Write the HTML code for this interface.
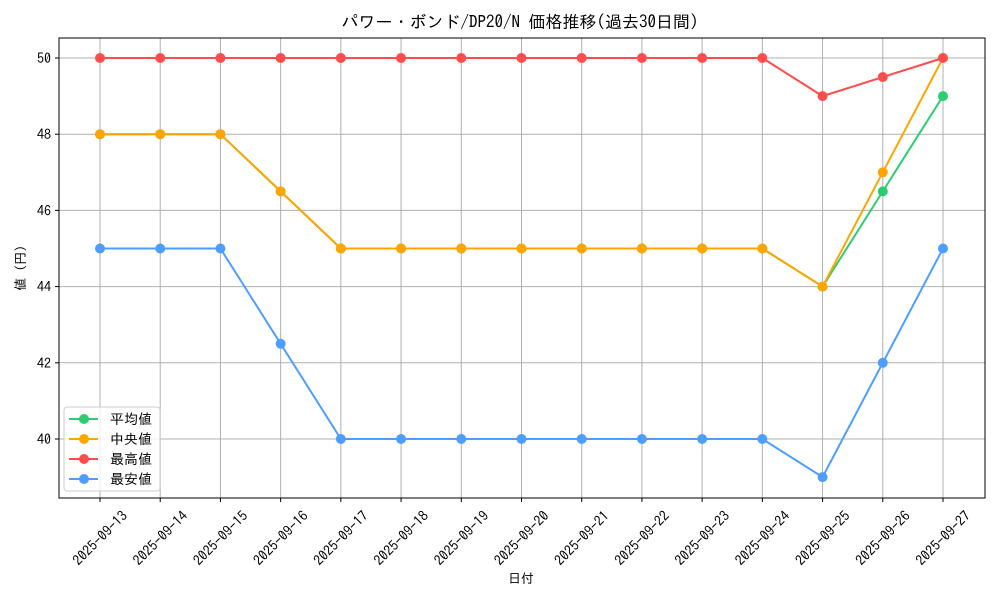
<!DOCTYPE html>
<html><head><meta charset="utf-8"><style>
body{margin:0;background:#fff}
svg text{font-family:"IPAGothic","Liberation Sans","Noto Sans CJK JP",sans-serif;fill:#000}
</style></head><body>
<svg id="c" width="1000" height="600"></svg>
<script>
const dates=["2025-09-13","2025-09-14","2025-09-15","2025-09-16","2025-09-17","2025-09-18","2025-09-19","2025-09-20","2025-09-21","2025-09-22","2025-09-23","2025-09-24","2025-09-25","2025-09-26","2025-09-27"];
const avgVals=[48,48,48,46.5,45,45,45,45,45,45,45,45,44,46.5,49];
const medVals=[48,48,48,46.5,45,45,45,45,45,45,45,45,44,47,50];
const maxVals=[50,50,50,50,50,50,50,50,50,50,50,50,49,49.5,50];
const minVals=[45,45,45,42.5,40,40,40,40,40,40,40,40,39,42,45];
const yTicks=[40,42,44,46,48,50];
const seriesNames=["平均値","中央値","最高値","最安値"];
const L=59,R=985,T=38,B=498;
const X=i=>100+i*(943-100)/(dates.length-1);
const Y=v=>58+(50-v)*(439-58)/10;
const svg=document.getElementById('c');const NS='http://www.w3.org/2000/svg';
function mk(t,a,p){const e=document.createElementNS(NS,t);for(const k in a)e.setAttribute(k,a[k]);(p||svg).appendChild(e);return e;}
let e;
dates.forEach((d,i)=>{e=mk('line',{x1:X(i),x2:X(i),y1:T,y2:B,stroke:'#b0b0b0','stroke-width':1});

mk('line',{x1:X(i),x2:X(i),y1:B,y2:B+4,stroke:'#000'});
const cx=X(i),cy=B+40;
e=mk('text',{x:cx,y:cy+5,'font-size':14,'text-anchor':'middle',transform:`rotate(-45 ${cx} ${cy})`});e.textContent=d;
});
yTicks.forEach(v=>{e=mk('line',{x1:L,x2:R,y1:Y(v),y2:Y(v),stroke:'#b0b0b0'});

mk('line',{x1:L-4,x2:L,y1:Y(v),y2:Y(v),stroke:'#000'});
e=mk('text',{x:L-8,y:Y(v)+5,'font-size':14,'text-anchor':'end'});e.textContent=v;
});
const series=[[avgVals,'#2ecc71'],[medVals,'#ffa500'],[maxVals,'#ff4d4d'],[minVals,'#4d9eff']];
series.forEach(([vals,c],si)=>{
e=mk('polyline',{points:vals.map((v,i)=>X(i)+','+Y(v)).join(' '),fill:'none',stroke:c,'stroke-width':2});

vals.forEach((v,i)=>{e=mk('circle',{cx:X(i),cy:Y(v),r:5,fill:c});
});});
e=mk('rect',{x:L,y:T,width:R-L,height:B-T,fill:'none',stroke:'#000','stroke-width':1});

e=mk('text',{x:520,y:28,'font-size':17,'text-anchor':'middle'});e.textContent='パワー・ボンド/DP20/N 価格推移(過去30日間)';

e=mk('text',{x:521,y:583,'font-size':13,'text-anchor':'middle'});e.textContent='日付';

e=mk('text',{x:25,y:268,'font-size':13,'text-anchor':'middle',transform:'rotate(-90 25 268)'});e.textContent='値 (円)';

const lg=mk('g',{});
mk('rect',{x:64,y:407,width:96,height:84,rx:3,fill:'#fff','fill-opacity':0.8,stroke:'#ccc'},lg);
series.forEach(([v,c],i)=>{const y=419+i*20;
mk('line',{x1:69,x2:98,y1:y,y2:y,stroke:c,'stroke-width':2},lg);
mk('circle',{cx:84,cy:y,r:5,fill:c},lg);
e=mk('text',{x:110,y:y+5,'font-size':14},lg);e.textContent=seriesNames[i];
});
</script></body></html>
